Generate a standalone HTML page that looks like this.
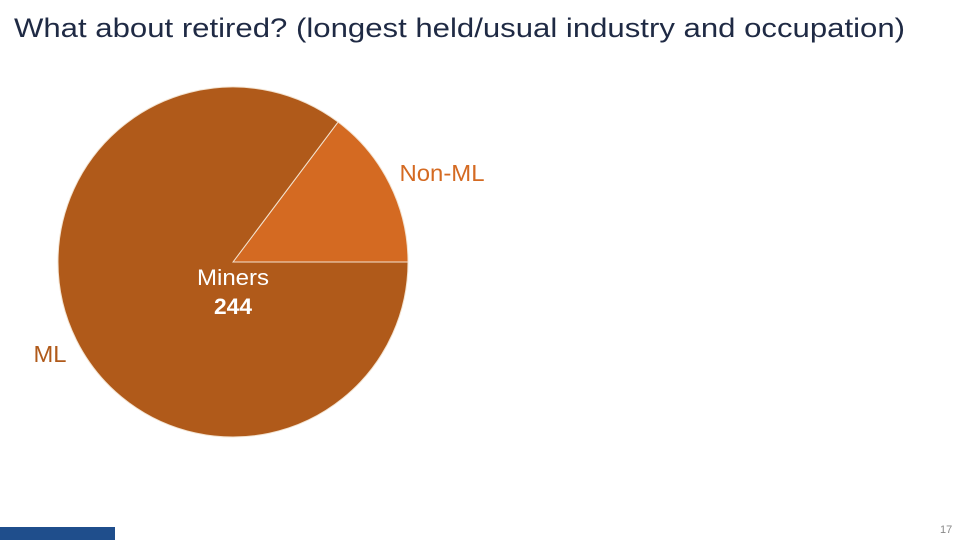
<!DOCTYPE html>
<html><head><meta charset="utf-8"><style>
body{margin:0;width:960px;height:540px;background:#fff;overflow:hidden;position:relative;font-family:"Liberation Sans",sans-serif}
</style></head><body>
<svg id="chart" width="960" height="540" style="position:absolute;left:0;top:0">
<text x="14" y="37" font-size="27" fill="#1f2a44" textLength="891" lengthAdjust="spacingAndGlyphs" font-family="Liberation Sans, sans-serif">What about retired? (longest held/usual industry and occupation)</text>
</svg>
<div style="position:absolute;left:0;top:527px;width:115px;height:13px;background:#1f4e8c"></div>
<div style="position:absolute;left:940px;top:524px;font-size:11px;color:#888">17</div>
<script>
const categories=["Non-ML","ML"];
const values=[36,208];
const colors=["#d46a22","#b05a1a"];
const total=244;
const svg=document.getElementById('chart');
const NS="http://www.w3.org/2000/svg";
const cx=233,cy=262,r=175;
const sum=values.reduce((a,b)=>a+b,0);
let a0=0;
function pt(a){return [cx+r*Math.cos(a),cy-r*Math.sin(a)];}
values.forEach((v,i)=>{
  const a1=a0+v/sum*2*Math.PI;
  const p0=pt(a0),p1=pt(a1);
  const large=(a1-a0)>Math.PI?1:0;
  const p=document.createElementNS(NS,'path');
  p.setAttribute('d',`M${cx},${cy} L${p0[0]},${p0[1]} A${r},${r} 0 ${large} 0 ${p1[0]},${p1[1]} Z`);
  p.setAttribute('fill',colors[i]);
  p.setAttribute('stroke','#f3e3d0');
  p.setAttribute('stroke-width','1');
  
  
  svg.appendChild(p);
  a0=a1;
});
function txt(x,y,s,c,size,name,w,len){
  const t=document.createElementNS(NS,'text');
  t.setAttribute('x',x);t.setAttribute('y',y);t.setAttribute('fill',c);
  t.setAttribute('font-size',size);t.setAttribute('text-anchor','middle');
  if(w)t.setAttribute('font-weight',w);
  if(len){t.setAttribute('textLength',len);t.setAttribute('lengthAdjust','spacingAndGlyphs');}
  t.setAttribute('font-family','Liberation Sans, sans-serif');
  t.textContent=s;
  
  
  svg.appendChild(t);
}
txt(442,181,categories[0],colors[0],23,'label-non-ml',null,85);
txt(50,362,categories[1],colors[1],23,'label-ml',null,33);
txt(233,285,'Miners','#fff',22,'center-label',null,72);
txt(233,314,String(total),'#fff',22,'center-total','bold',38);
</script>
</body></html>
